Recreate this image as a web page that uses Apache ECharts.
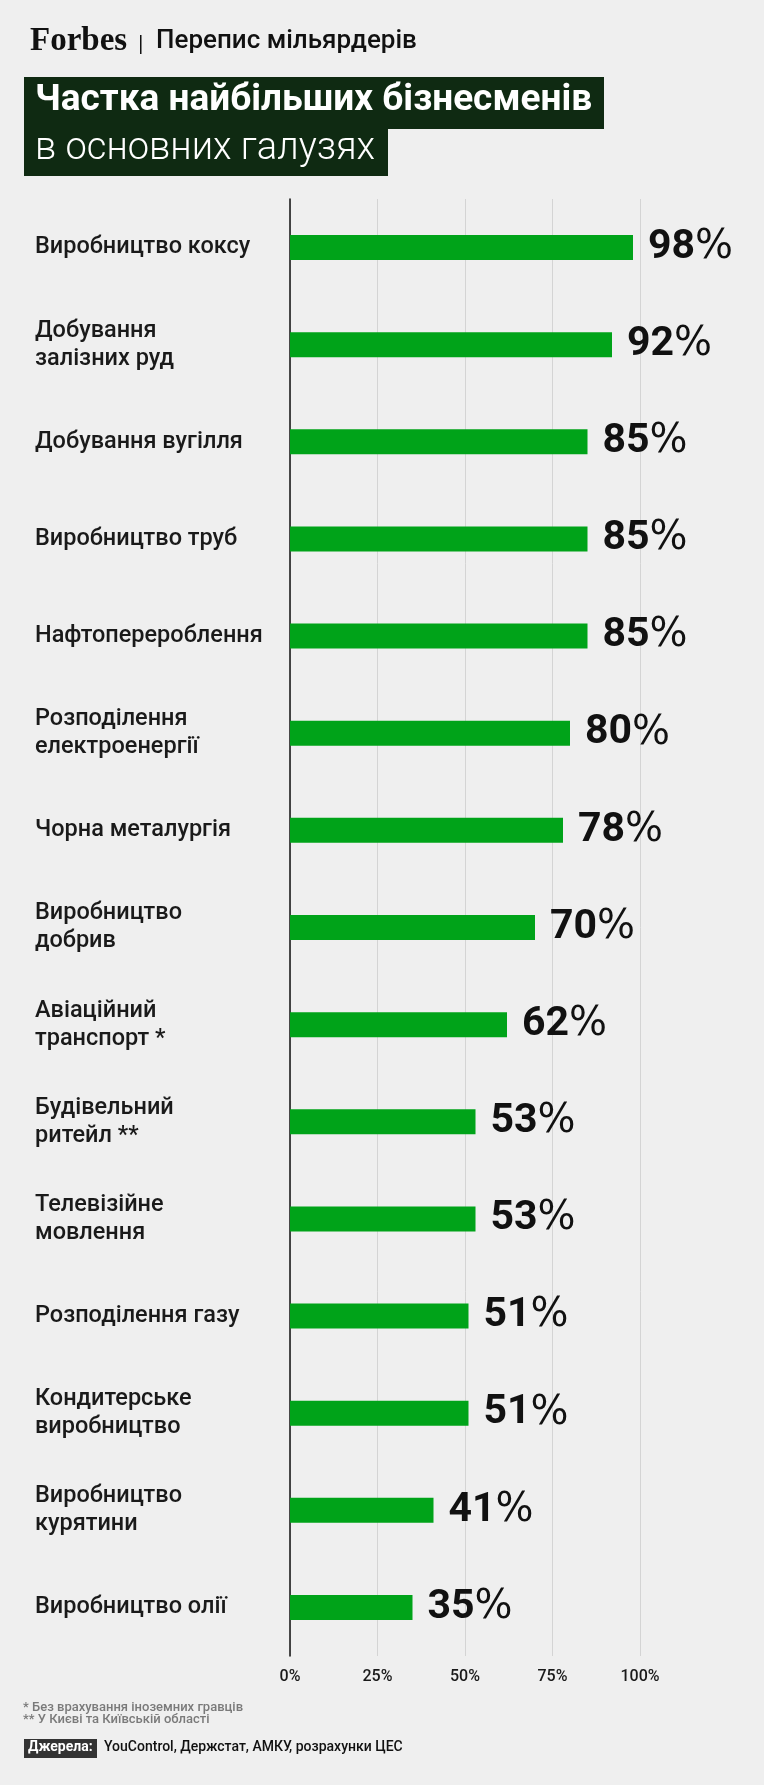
<!DOCTYPE html>
<html>
<head>
<meta charset="utf-8">
<script src="https://cdn.jsdelivr.net/npm/echarts@6/dist/echarts.min.js"></script>
<style>
  html, body { margin: 0; padding: 0; background: #efefef; }
  #main { width: 764px; height: 1785px; }
</style>
</head>
<body>
<div id="main"></div>
<script>
// галузі (зверху вниз) та частка найбільших бізнесменів, %
var categories = [
    'Виробництво коксу',
    'Добування\nзалізних руд',
    'Добування вугілля',
    'Виробництво труб',
    'Нафтоперероблення',
    'Розподілення\nелектроенергії',
    'Чорна металургія',
    'Виробництво\nдобрив',
    'Авіаційний\nтранспорт *',
    'Будівельний\nритейл **',
    'Телевізійне\nмовлення',
    'Розподілення газу',
    'Кондитерське\nвиробництво',
    'Виробництво\nкурятини',
    'Виробництво олії'
];
var shares = [98, 92, 85, 85, 85, 80, 78, 70, 62, 53, 53, 51, 51, 41, 35];
var tickValues = [0, 25, 50, 75, 100];

var font = 'Roboto, "Noto Sans", sans-serif';

var myChart = echarts.init(document.getElementById('main'));
var option = {
    backgroundColor: '#efefef',
    animation: false,
    grid: {
        left: 290,
        right: 124,
        top: 199,
        bottom: 129
    },
    xAxis: {
        type: 'value',
        min: tickValues[0],
        max: tickValues[tickValues.length - 1],
        interval: 25,
        axisLine: {show: false},
        axisTick: {show: false},
        splitLine: {show: true, lineStyle: {color: '#d4d4d4', width: 1}},
        axisLabel: {
            formatter: '{value}%',
            margin: 13,
            fontFamily: font,
            fontSize: 16,
            fontWeight: 500,
            color: '#1a1a1a'
        }
    },
    yAxis: {
        type: 'category',
        inverse: true,
        data: categories,
        axisLine: {show: true, lineStyle: {color: '#111', width: 1.5}},
        axisTick: {show: false},
        axisLabel: {
            align: 'left',
            margin: 255,
            fontFamily: font,
            fontSize: 23.5,
            fontWeight: 500,
            lineHeight: 28,
            color: '#1a1a1a'
        }
    },
    series: [
        {
            type: 'bar',
            data: shares,
            barWidth: 25,
            itemStyle: {color: '#00a319'},
            label: {
                show: true,
                position: 'right',
                distance: 15,
                formatter: function (p) {
                    return '{n|' + p.value + '}{p|%}';
                },
                rich: {
                    n: {fontFamily: font, fontSize: 41, fontWeight: 700, color: '#111'},
                    p: {fontFamily: '"DejaVu Sans", sans-serif', fontSize: 40, fontWeight: 400, color: '#111'}
                }
            }
        }
    ],
    graphic: [
        // шапка
        {type: 'text', left: 30, top: 25, style: {text: 'Forbes', font: 'bold 33px "Liberation Serif", serif', fill: '#111'}},
        {type: 'rect', shape: {x: 140, y: 35, width: 1.5, height: 19}, style: {fill: '#111'}},
        {type: 'text', left: 156, top: 28, style: {text: 'Перепис мільярдерів', font: '500 26px ' + font, fill: '#111'}},
        // заголовок
        {type: 'rect', shape: {x: 24, y: 77, width: 580, height: 52}, style: {fill: '#0f2a12'}},
        {type: 'rect', shape: {x: 24, y: 129, width: 364, height: 47}, style: {fill: '#0f2a12'}},
        {type: 'text', left: 35, top: 82, style: {text: 'Частка найбільших бізнесменів', font: 'bold 37px ' + font, fill: '#fff'}},
        {type: 'text', left: 35, top: 130, style: {text: 'в основних галузях', font: '300 38px ' + font, fill: '#fff'}},
        // примітки
        {type: 'text', left: 23, top: 1701, style: {text: '* Без врахування іноземних гравців\n** У Києві та Київській області', font: '500 13px ' + font, lineHeight: 12, fill: '#7a7a7a'}},
        // джерела
        {type: 'rect', shape: {x: 24, y: 1739, width: 73, height: 19}, style: {fill: '#333'}},
        {type: 'text', left: 28, top: 1740, style: {text: 'Джерела:', font: 'bold 14px ' + font, fill: '#fff'}},
        {type: 'text', left: 104, top: 1740, style: {text: 'YouControl, Держстат, АМКУ, розрахунки ЦЕС', font: '500 14px ' + font, fill: '#111'}}
    ]
};
myChart.setOption(option);
</script>
</body>
</html>
